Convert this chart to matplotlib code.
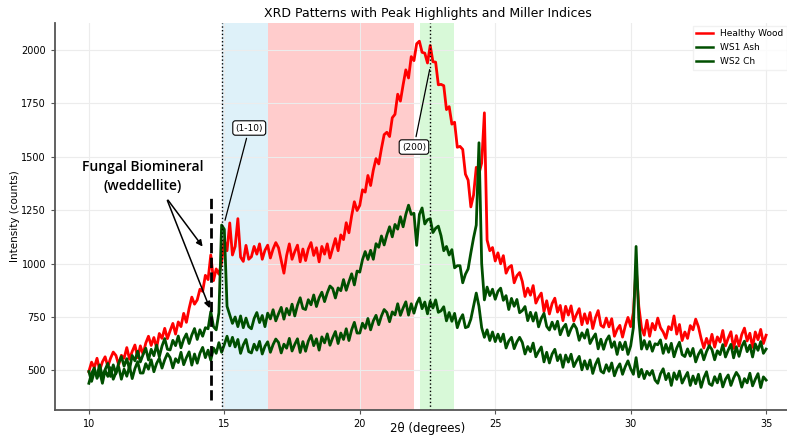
import numpy as np
import matplotlib
matplotlib.use('Agg')
import matplotlib.pyplot as plt

# intensities, 2theta sampled every 0.1 degree from 10 to 35
healthy_wood = [
    495, 539, 513, 557, 501, 540, 564, 518, 557, 586,
    570, 526, 571, 557, 607, 553, 589, 619, 560, 615,
    576, 628, 660, 617, 654, 606, 673, 650, 697, 649,
    686, 720, 670, 727, 705, 767, 725, 790, 843, 810,
    830, 880, 870, 945, 925, 1040, 920, 975, 950, 1005,
    1110, 1060, 1190, 1040, 1080, 1210, 1030, 1010, 1085, 1020,
    1032, 1080, 1044, 1092, 1020, 1062, 1086, 1026, 1068, 1098,
    1074, 1014, 955, 1038, 1092, 1020, 1056, 1086, 1008, 1068,
    1014, 1068, 1098, 1038, 1074, 1008, 1080, 1044, 1092, 1026,
    1072, 1117, 1060, 1134, 1112, 1191, 1144, 1223, 1289, 1248,
    1272, 1345, 1334, 1412, 1365, 1437, 1491, 1466, 1538, 1603,
    1614, 1594, 1682, 1698, 1792, 1760, 1836, 1906, 1868, 1968,
    1949, 2028, 2040, 1988, 1984, 1938, 2020, 1944, 1942, 1836,
    1838, 1832, 1720, 1734, 1652, 1661, 1544, 1548, 1534, 1418,
    1390, 1265, 1320, 1450, 1420, 1470, 1705, 1110, 1060, 1075,
    1012, 1050, 999, 1037, 955, 982, 991, 910, 943, 958,
    916, 846, 885, 852, 897, 815, 842, 862, 775, 826,
    764, 813, 838, 773, 804, 733, 800, 759, 802, 731,
    762, 789, 714, 765, 720, 771, 696, 747, 780, 711,
    702, 745, 704, 742, 660, 692, 711, 656, 708, 748,
    705, 770, 985, 800, 700, 665, 735, 660, 720, 690,
    745, 700, 680, 650, 705, 690, 755, 670, 715, 640,
    680, 650, 710, 690, 740, 705, 650, 605, 650, 615,
    669, 609, 657, 633, 687, 615, 651, 681, 603, 663,
    614, 668, 698, 638, 674, 608, 680, 644, 692, 626,
    665,
]

ws1_ash = [
    495, 449, 493, 477, 526, 470, 504, 533, 472, 526,
    485, 535, 565, 520, 555, 505, 570, 545, 590, 540,
    574, 604, 549, 599, 569, 619, 564, 614, 649, 599,
    596, 641, 616, 661, 606, 646, 671, 626, 666, 696,
    645, 690, 660, 700, 695, 775, 705, 690, 770, 1180,
    1160, 800, 760, 720, 750, 705, 755, 700, 745, 705,
    695, 743, 771, 724, 757, 705, 768, 741, 784, 732,
    765, 795, 740, 790, 760, 810, 755, 805, 840, 790,
    785, 831, 807, 853, 799, 840, 866, 822, 863, 895,
    883, 839, 886, 873, 925, 875, 915, 952, 900, 965,
    960, 1018, 1056, 1019, 1062, 1020, 1093, 1076, 1129, 1087,
    1134, 1172, 1125, 1183, 1161, 1219, 1172, 1230, 1273, 1230,
    1235, 1085, 1230, 1260, 1185, 1205, 1210, 1145, 1165, 1175,
    1130, 1060, 1080, 1040, 1065, 980, 990, 990, 910, 950,
    975, 1050, 1120, 1180, 1565, 1000, 830, 890, 850, 880,
    833, 870, 885, 828, 850, 785, 837, 800, 832, 770,
    780, 799, 733, 772, 731, 770, 704, 743, 767, 706,
    689, 726, 693, 730, 667, 699, 716, 663, 695, 717,
    696, 641, 676, 651, 691, 626, 651, 671, 601, 646,
    599, 641, 662, 608, 634, 575, 631, 597, 633, 575,
    615, 700, 1080, 740, 600, 640, 600, 635, 590, 625,
    620, 643, 580, 622, 585, 627, 564, 605, 632, 574,
    565, 601, 567, 603, 540, 575, 597, 550, 588, 616,
    598, 550, 592, 574, 621, 563, 595, 622, 559, 611,
    566, 612, 637, 588, 618, 563, 624, 594, 635, 580,
    600,
]

ws2_ch = [
    440, 486, 512, 463, 494, 440, 501, 472, 513, 459,
    490, 517, 459, 506, 473, 520, 462, 509, 541, 488,
    488, 532, 506, 550, 494, 533, 557, 511, 550, 579,
    560, 512, 555, 537, 585, 527, 560, 587, 525, 577,
    534, 581, 608, 560, 595, 548, 605, 580, 630, 585,
    621, 660, 615, 655, 610, 645, 580, 620, 645, 588,
    582, 623, 595, 636, 577, 613, 634, 585, 621, 647,
    631, 582, 623, 604, 650, 591, 622, 648, 584, 635,
    590, 637, 664, 616, 648, 595, 657, 629, 671, 618,
    653, 682, 626, 675, 645, 695, 640, 690, 725, 675,
    675, 721, 697, 743, 690, 732, 758, 714, 755, 785,
    771, 728, 774, 760, 812, 758, 792, 821, 759, 812,
    768, 813, 839, 789, 820, 765, 824, 792, 830, 772,
    779, 798, 732, 771, 730, 767, 700, 738, 761, 700,
    705, 740, 800, 862, 800, 700, 655, 690, 640, 680,
    635, 670, 635, 670, 605, 638, 655, 602, 634, 655,
    631, 577, 612, 588, 628, 564, 589, 610, 540, 585,
    535, 577, 599, 546, 573, 515, 572, 539, 576, 518,
    544, 566, 503, 545, 507, 549, 486, 528, 555, 497,
    488, 527, 496, 535, 475, 510, 531, 482, 518, 545,
    508, 482, 560, 470, 505, 462, 496, 478, 500, 455,
    440, 484, 508, 457, 486, 430, 489, 458, 497, 441,
    467, 491, 430, 474, 438, 482, 421, 465, 494, 438,
    430, 471, 442, 483, 423, 459, 479, 430, 465, 491,
    471, 422, 462, 442, 487, 428, 459, 485, 420, 470,
    455,
]

series_labels = ['Healthy Wood', 'WS1 Ash', 'WS2 Ch']
peak_labels = ['(1-10)', '(200)']


def draw_xrd(save_name):
    fig = plt.figure(figsize=(7.87, 4.36), dpi=100)
    ax = fig.add_axes([0.0699, 0.0596, 0.9466, 0.8876])

    # highlighted regions
    ax.axvspan(14.9, 16.6, color='skyblue', alpha=0.27, lw=0, zorder=0)
    ax.axvspan(16.6, 22.0, color='red', alpha=0.2, lw=0, zorder=0)
    ax.axvspan(22.22, 23.47, color='lightgreen', alpha=0.35, lw=0, zorder=0)

    colors = ['#ff0000', '#004f00', '#004f00']
    for y, lab, c in zip([healthy_wood, ws1_ash, ws2_ch], series_labels, colors):
        two_theta = np.linspace(10, 35, len(y))
        ax.plot(two_theta, y, color=c, lw=2.0, label=lab)

    ax.axvline(14.9, color='black', ls=':', lw=1)
    ax.axvline(22.6, color='black', ls=':', lw=1)
    ax.vlines(14.5, 360, 1310, colors='black', linestyles='--', lw=2)

    # miller indices
    box = dict(boxstyle='round,pad=0.3', fc='white', ec='black', lw=0.8)
    ax.annotate(peak_labels[0], xy=(15.0, 1190), xytext=(15.92, 1634),
                ha='center', va='center', fontsize=6.5, bbox=box,
                arrowprops=dict(arrowstyle='-', color='black', lw=0.9))
    ax.annotate(peak_labels[1], xy=(22.6, 1920), xytext=(22.0, 1545),
                ha='center', va='center', fontsize=6.5, bbox=box,
                arrowprops=dict(arrowstyle='-', color='black', lw=0.9))

    # weddellite callout
    ax.text(12.0, 1405, 'Fungal Biomineral\n(weddellite)', ha='center', va='center',
            fontsize=10, family='Open Sans', weight='semibold', linespacing=1.45)
    arrow = dict(arrowstyle='-|>', color='black', lw=1.1, mutation_scale=9)
    ax.annotate('', xy=(14.26, 1069), xytext=(12.86, 1307), arrowprops=arrow)
    ax.annotate('', xy=(14.5, 779), xytext=(12.86, 1307), arrowprops=arrow)

    ax.set_xlim(8.75, 36.25)
    ax.set_ylim(315, 2125)
    ax.set_xticks([10, 15, 20, 25, 30, 35])
    ax.set_yticks([500, 750, 1000, 1250, 1500, 1750, 2000])
    ax.tick_params(labelsize=7, length=3, color='#555555')
    ax.grid(color='#ececec', lw=0.8)
    ax.set_axisbelow(True)
    for side in ['top', 'right']:
        ax.spines[side].set_visible(False)
    for side in ['left', 'bottom']:
        ax.spines[side].set_color('#555555')
        ax.spines[side].set_linewidth(1.3)

    ax.set_xlabel('2θ (degrees)', fontsize=8.5)
    ax.xaxis.set_label_coords(0.5, -0.032)
    ax.set_ylabel('Intensity (counts)', fontsize=7.5)
    ax.yaxis.set_label_coords(-0.047, 0.5)

    ax.set_title('XRD Patterns with Peak Highlights and Miller Indices', fontsize=9, pad=4)

    leg = ax.legend(loc='upper left', bbox_to_anchor=(688 / 787, 1 - 21 / 436),
                    bbox_transform=fig.transFigure, fontsize=6.5, handlelength=1.9,
                    labelspacing=0.55, frameon=True, fancybox=False)
    leg.get_frame().set_edgecolor('#eeeeee')
    for line in leg.get_lines():
        line.set_linewidth(1.8)

    fig.savefig(save_name, dpi=100)


if __name__ == "__main__":
    draw_xrd('out.png')
